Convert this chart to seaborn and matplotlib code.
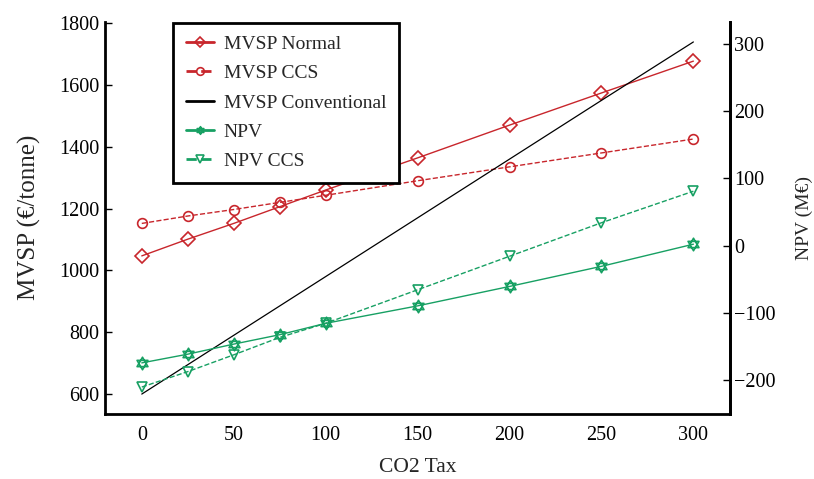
import matplotlib
matplotlib.use("Agg")
import matplotlib.pyplot as plt
from matplotlib.path import Path
import seaborn as sns
import pandas as pd

# values
co2_tax = [0, 25, 50, 75, 100, 150, 200, 250, 300]
mvsp_normal = [1047, 1101, 1152, 1206, 1260, 1364, 1470, 1574, 1677]
mvsp_ccs = [1152, 1176, 1197, 1220, 1243, 1290, 1335, 1380, 1425]
mvsp_conv = [600, 695, 790, 885, 980, 1170, 1360, 1550, 1739]
npv = [-175, -162, -147, -133, -116, -90, -61, -31, 2]
npv_ccs = [-211, -188, -163, -137, -116, -66, -16, 34, 81]

df = pd.DataFrame({"tax": co2_tax, "normal": mvsp_normal, "ccs": mvsp_ccs,
                   "conv": mvsp_conv, "npv": npv, "npv_ccs": npv_ccs})

sns.set_style("white")
plt.rcParams["font.family"] = ["Liberation Serif", "DejaVu Serif"]

red = "#c8262c"
green = "#17a063"

# six pointed star outline (two triangles) for the NPV marker
c, s = 0.866, 0.5
hexagram = Path([(0, 1), (-c, -s), (c, -s), (0, 1),
                 (0, -1), (c, s), (-c, s), (0, -1)],
                [Path.MOVETO, Path.LINETO, Path.LINETO, Path.CLOSEPOLY,
                 Path.MOVETO, Path.LINETO, Path.LINETO, Path.CLOSEPOLY])

fig, ax = plt.subplots(figsize=(8.14, 4.79), dpi=100)
fig.subplots_adjust(left=0.129, right=0.897, bottom=0.136, top=0.955)
ax2 = ax.twinx()

mk = dict(markerfacecolor="none", markeredgewidth=1.2, markersize=7)
sns.lineplot(data=df, x="tax", y="normal", ax=ax, color=red, lw=1, marker="D",
             markeredgecolor=red, label="MVSP Normal", **mk)
sns.lineplot(data=df, x="tax", y="ccs", ax=ax, color=red, lw=1, linestyle="--",
             marker="o", markeredgecolor=red, label="MVSP CCS", **mk)
sns.lineplot(data=df, x="tax", y="conv", ax=ax, color="black", lw=0.9,
             label="MVSP Conventional")
sns.lineplot(data=df, x="tax", y="npv", ax=ax2, color=green, lw=1, marker=hexagram,
             markeredgecolor=green, label="NPV",
             markerfacecolor="none", markeredgewidth=1.2, markersize=9)
sns.lineplot(data=df, x="tax", y="npv_ccs", ax=ax2, color=green, lw=1, linestyle="--",
             marker="v", markeredgecolor=green, label="NPV CCS", **mk)

ax.set_xlim(-20, 320)
ax.set_ylim(536, 1805)
ax2.set_ylim(-251, 334)
ax.set_xticks([0, 50, 100, 150, 200, 250, 300])
ax.set_yticks([600, 800, 1000, 1200, 1400, 1600, 1800])
ax2.set_yticks([-200, -100, 0, 100, 200, 300])
ax2.set_yticklabels(["\u2212200", "\u2212100", "0", "100", "200", "300"])

ax.set_xlabel("CO2 Tax", fontsize=15.5, labelpad=9)
ax.set_ylabel("MVSP (\u20ac/tonne)", fontsize=18, labelpad=13)
ax2.set_ylabel("NPV (M\u20ac)", fontsize=14, labelpad=14)

for a in (ax, ax2):
    a.spines["top"].set_visible(False)
    for side in ("left", "bottom", "right"):
        a.spines[side].set_linewidth(2)
        a.spines[side].set_color("black")
    a.tick_params(direction="in", length=5, width=1, labelsize=14.5, colors="black")
ax.tick_params(axis="x", pad=9)
ax.tick_params(axis="y", pad=4)
ax2.tick_params(axis="y", pad=3)
ax2.spines["left"].set_visible(False)
ax2.spines["bottom"].set_visible(False)

h1, l1 = ax.get_legend_handles_labels()
h2, l2 = ax2.get_legend_handles_labels()
ax.get_legend().remove()
ax2.get_legend().remove()
leg = ax2.legend(h1 + h2, l1 + l2, loc="upper left", bbox_to_anchor=(0.109, 0.997),
                 borderaxespad=0, fontsize=14, frameon=True, fancybox=False,
                 framealpha=1, edgecolor="black", numpoints=1, handlelength=1.45,
                 handletextpad=0.5, borderpad=0.65, labelspacing=0.6)
leg.get_frame().set_linewidth(2)
for ln in leg.get_lines():
    ln.set_linewidth(2)
    ln.set_markersize(5.5)
leg.set_zorder(10)

fig.savefig("out.png", dpi=100)
